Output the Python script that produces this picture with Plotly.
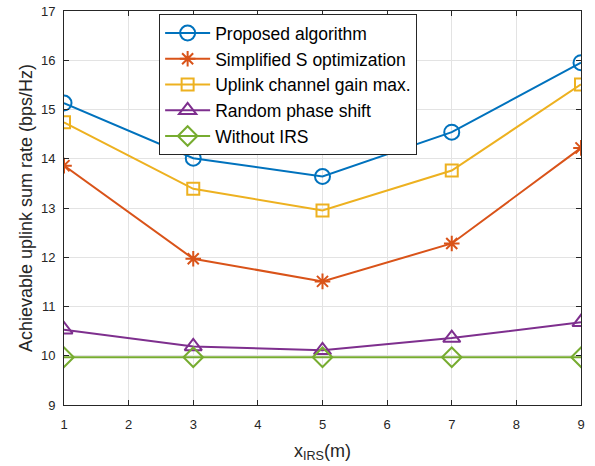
import plotly.graph_objects as go

x_irs = [1, 3, 5, 7, 9]
proposed = [15.13, 14.01, 13.64, 14.54, 15.95]
simplified = [13.86, 11.97, 11.51, 12.28, 14.22]
uplink_gain = [14.74, 13.39, 12.95, 13.76, 15.51]
random_phase = [10.53, 10.19, 10.11, 10.36, 10.68]
without_irs = [9.97, 9.97, 9.97, 9.97, 9.97]

names = ["Proposed algorithm", "Simplified S optimization", "Uplink channel gain max.",
         "Random phase shift", "Without IRS"]
series = [proposed, simplified, uplink_gain, random_phase, without_irs]
colors = ["#0072BD", "#D95319", "#EDB120", "#7E2F8E", "#77AC30"]
symbols = ["circle-open", "asterisk-open", "square-open", "triangle-up-open", "diamond-open"]
sizes = [15, 13, 12, 15, 15]

fig = go.Figure()
for n, y, c, s, sz in zip(names, series, colors, symbols, sizes):
    fig.add_trace(go.Scatter(
        x=x_irs, y=y, name=n, mode="lines+markers",
        line=dict(color=c, width=2),
        marker=dict(symbol=s, size=sz, color=c, line=dict(color=c, width=2)),
    ))

axis_common = dict(
    showgrid=True, gridcolor="#e3e3e3", gridwidth=1,
    showline=True, linecolor="#262626", linewidth=1, mirror="ticks",
    ticks="inside", ticklen=5, tickcolor="#262626",
    tickfont=dict(family="Liberation Sans, Arial", size=13, color="#262626"),
    zeroline=False, automargin=False,
)

fig.update_layout(
    width=595, height=466,
    margin=dict(l=64, r=14, t=11, b=61),
    paper_bgcolor="white", plot_bgcolor="white",
    font=dict(family="Liberation Sans, Arial", color="#262626"),
    xaxis=dict(range=[1, 9], dtick=1, tick0=1, ticklabelstandoff=7,
               title=dict(text="x<sub>IRS</sub>(m)", font=dict(size=18), standoff=13),
               **axis_common),
    yaxis=dict(range=[9, 17], dtick=1, tick0=9, ticklabelstandoff=5,
               title=dict(text="Achievable uplink sum rate (bps/Hz)", font=dict(size=18), standoff=3),
               **axis_common),
    legend=dict(
        x=0.184, y=0.992, xanchor="left", yanchor="top",
        bgcolor="white", bordercolor="#262626", borderwidth=1,
        font=dict(family="Liberation Sans, Arial", size=17.5, color="black"),
        itemwidth=45, tracegroupgap=0,
    ),
    showlegend=True,
)

fig.write_html("out.html", config={"displayModeBar": False},
               post_script="document.body.style.margin='0';")
